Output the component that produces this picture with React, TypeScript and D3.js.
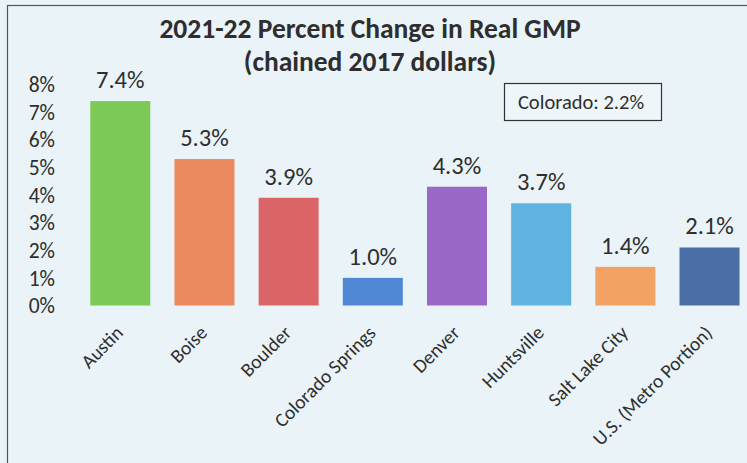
import * as d3 from "d3";

// data
const cities = [
  "Austin",
  "Boise",
  "Boulder",
  "Colorado Springs",
  "Denver",
  "Huntsville",
  "Salt Lake City",
  "U.S. (Metro Portion)",
];
const pctChange = [7.4, 5.3, 3.9, 1.0, 4.3, 3.7, 1.4, 2.1];
const yTickValues = [0, 1, 2, 3, 4, 5, 6, 7, 8];
const titleLines = ["2021-22 Percent Change in Real GMP", "(chained 2017 dollars)"];
const noteText = "Colorado: 2.2%";

const palette = ["#7cc957", "#eb8a5f", "#db6467", "#5088d6", "#9a69c8", "#5eb3e0", "#f4a263", "#4c6ea7"];

const W = 747;
const H = 463;
const FONT = "Carlito, Lato, 'Open Sans', sans-serif";
const INK = "#2e2e2e";

export default function App() {
  const x = d3
    .scaleBand<string>()
    .domain(cities)
    .range([78.2, 751.6])
    .paddingInner(0.287)
    .paddingOuter(0.1435);

  const y = d3.scaleLinear().domain([0, 8]).range([305.5, 84.5]);

  return (
    <svg
      width={W}
      height={H}
      style={{ position: "absolute", left: 0, top: 0, display: "block" }}
      fontFamily={FONT}
    >
      <rect x={0} y={0} width={W} height={H} fill="#eaf3f7" />
      {/* chart frame (runs off the right/bottom edge in the scan) */}
      <rect x={7.5} y={5.5} width={W + 20} height={H + 20} fill="#e9f3f8" stroke="#555" strokeWidth={1.2} />

      {/* title */}
      {titleLines.map((t, i) => (
        <text
          key={t}
          x={370}
          y={38 + i * 33}
          textAnchor="middle"
          fontSize={27.5}
          fontWeight="bold"
          fill={INK}
        >
          {t}
        </text>
      ))}

      {/* y axis labels */}
      {yTickValues.map((v) => (
        <text
          key={v}
          x={55}
          y={y(v)}
          dy="0.36em"
          textAnchor="end"
          fontSize={21.5}
          fill={INK}
        >
          {d3.format(".0%")(v / 100)}
        </text>
      ))}

      {/* bars */}
      {cities.map((c, i) => (
        <rect
          key={c}
          x={x(c)}
          y={y(pctChange[i])}
          width={x.bandwidth()}
          height={y(0) - y(pctChange[i])}
          fill={palette[i]}
        />
      ))}

      {/* value labels */}
      {cities.map((c, i) => (
        <text
          key={c}
          x={(x(c) ?? 0) + x.bandwidth() / 2}
          y={y(pctChange[i]) - 13}
          textAnchor="middle"
          fontSize={24.5}
          fill={INK}
        >
          {d3.format(".1f")(pctChange[i]) + "%"}
        </text>
      ))}

      {/* category labels */}
      {cities.map((c) => {
        const cx = (x(c) ?? 0) + x.bandwidth() / 2 + 4;
        const cy = 334;
        return (
          <text
            key={c}
            transform={`translate(${cx},${cy}) rotate(-45)`}
            textAnchor="end"
            fontSize={19.5}
            fill={INK}
          >
            {c}
          </text>
        );
      })}

      {/* Colorado note */}
      <rect x={504.5} y={83.5} width={157} height={37} fill="#eef6f9" stroke="#333" strokeWidth={1.2} />
      <text x={581} y={102} dy="0.36em" textAnchor="middle" fontSize={20.5} fill={INK}>
        {noteText}
      </text>
    </svg>
  );
}
